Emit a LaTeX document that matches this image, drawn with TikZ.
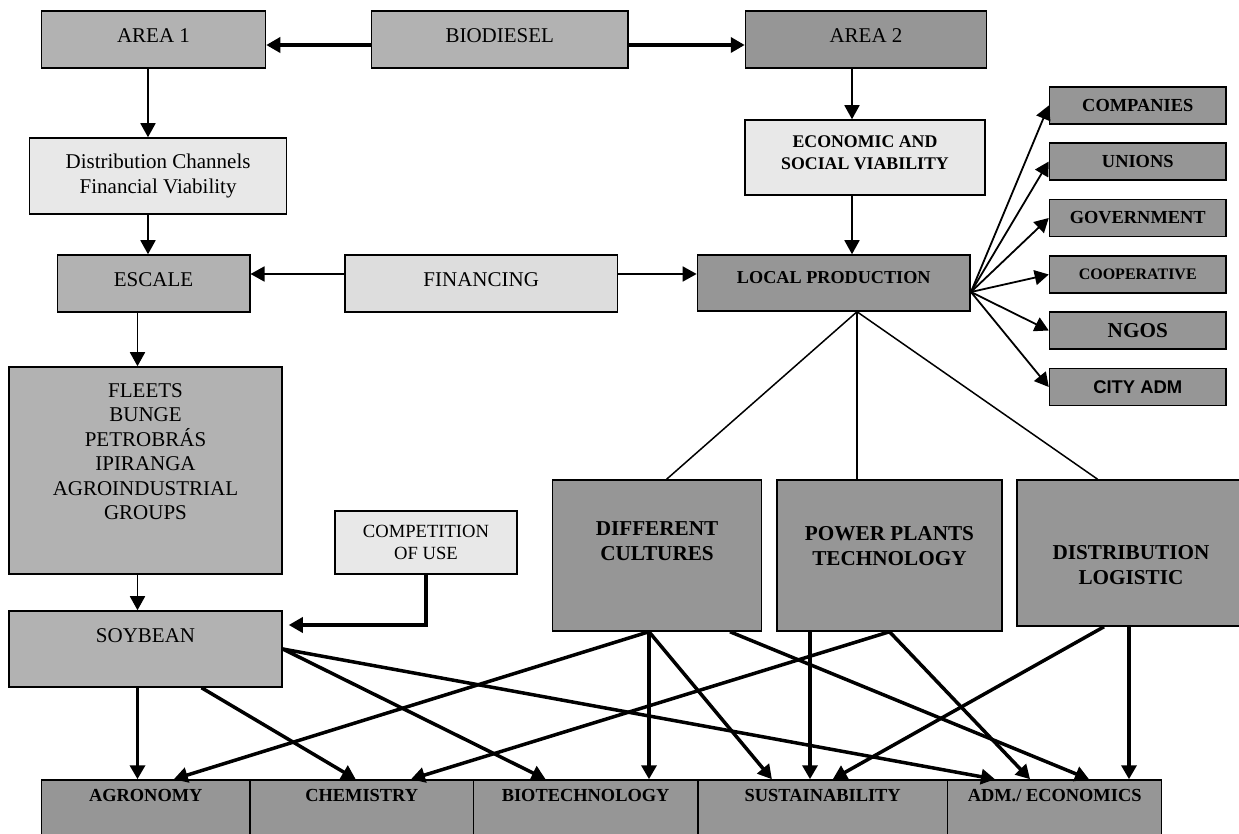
\documentclass[tikz,border=0pt]{standalone}
\usepackage{fontspec}
\setmainfont{Liberation Serif}
\setsansfont{Liberation Sans}
\usepackage{xcolor}
\usepackage{tikz}
\usetikzlibrary{arrows.meta, positioning, calc}

\definecolor{boxmid}{HTML}{B2B2B2}
\definecolor{boxdark}{HTML}{969696}
\definecolor{boxpale}{HTML}{E8E8E8}
\definecolor{boxlight}{HTML}{DDDDDD}

\begin{document}
\begin{tikzpicture}[
	  x=0.5pt, y=-0.5pt,
	  font=\fontsize{10.5}{12.2}\selectfont,
	  box/.style={
	    draw,
	    line width=0.75pt,
	    inner sep=0pt,
	    align=center
	  },
	  wh/.style 2 args={minimum width=#1, minimum height=#2},
	  boldsmall/.style={font=\fontsize{9.2}{11}\selectfont\bfseries},
	  boldbig/.style={font=\fontsize{10.6}{12.5}\selectfont\bfseries},
	  arrowtip/.style={-{Triangle[length=7pt, width=7.5pt]}},
	  arrow/.style={arrowtip, line width=0.9pt},
	  heavy/.style={arrowtip, line width=1.75pt},
	  link/.style={line width=0.75pt}
	]
	\useasboundingbox (0,0) rectangle (1239,834);
	
	\node[box, fill=boxmid, wh={112pt}{28.5pt}, text depth=4pt] (area1) at (153.5,39.5) {AREA 1};
	\node[box, fill=boxmid, wh={128.25pt}{28.5pt}, text depth=4pt] (biodiesel) at (499.75,39.5) {BIODIESEL};
	\node[box, fill=boxdark, wh={120.5pt}{28.5pt}, text depth=4pt] (area2) at (866,39.5) {AREA 2};
	
	\node[box, fill=boxpale, wh={128.5pt}{38pt}] (distch) at (158.1,176) {Distribution Channels\\Financial Viability};
	\node[box, fill=boxpale, wh={120.2pt}{37.5pt}, text depth=5pt, font=\fontsize{8.9}{11}\selectfont\bfseries] (econ) at (865,157.5) {ECONOMIC AND\\SOCIAL VIABILITY};
	
	\node[box, fill=boxmid, wh={96.25pt}{28.5pt}, text depth=4pt] (escale) at (153.5,283.5) {ESCALE};
	\node[box, fill=boxlight, wh={136.2pt}{28.5pt}, text depth=4pt] (financing) at (481.2,283.5) {FINANCING};
	\node[box, fill=boxdark, wh={136.4pt}{28pt}, text depth=5.5pt, font=\fontsize{9.1}{11}\selectfont\bfseries] (localprod) at (833.8,283) {LOCAL PRODUCTION};
	
	\node[box, fill=boxdark, wh={88.25pt}{18.5pt}, boldsmall] (companies) at (1137.75,105.5) {COMPANIES};
	\node[box, fill=boxdark, wh={88.25pt}{18.5pt}, boldsmall] (unions) at (1137.75,161.5) {UNIONS};
	\node[box, fill=boxdark, wh={88.25pt}{18.5pt}, boldsmall] (government) at (1137.75,218) {GOVERNMENT};
	\node[box, fill=boxdark, wh={88.25pt}{18.5pt}, font=\fontsize{8}{10}\selectfont\bfseries] (cooperative) at (1137.75,274.5) {COOPERATIVE};
	\node[box, fill=boxdark, wh={88.25pt}{18.5pt}, font=\fontsize{10.6}{12}\selectfont\bfseries] (ngos) at (1137.75,330.5) {NGOS};
	\node[box, fill=boxdark, wh={88.25pt}{18.5pt}, font=\fontsize{9.2}{11}\selectfont\sffamily\bfseries] (cityadm) at (1137.75,387) {CITY ADM};
	
	\node[box, fill=boxmid, wh={136.5pt}{103.5pt}, text depth=19pt] (fleets) at (145.5,470.5) {FLEETS\\BUNGE\\PETROBRÁS\\IPIRANGA\\AGROINDUSTRIAL\\GROUPS};
	\node[box, fill=boxpale, wh={91pt}{31.5pt}, font=\fontsize{9.3}{10.8}\selectfont] (competition) at (426,542.5) {COMPETITION\\OF USE};
	\node[box, fill=boxmid, wh={136.5pt}{38pt}, text depth=13.5pt] (soybean) at (145.5,649) {SOYBEAN};
	
	\node[box, fill=boxdark, wh={104.35pt}{75.5pt}, text depth=14.5pt, boldbig] (diffcult) at (657,555.5) {DIFFERENT\\CULTURES};
	\node[box, fill=boxdark, wh={112.5pt}{75.5pt}, text depth=10pt, boldbig] (powerplants) at (889.5,555.5) {POWER PLANTS\\TECHNOLOGY};
	\node[box, fill=boxdark, wh={114pt}{73pt}, boldbig] (distlog) at (1131,553) {\rule{0pt}{19.2pt}DISTRIBUTION\\LOGISTIC};
	
	\node[box, fill=boxdark, wh={104.25pt}{30pt}, text depth=15pt, boldsmall] (agronomy) at (145.75,810) {AGRONOMY};
	\node[box, fill=boxdark, wh={111.75pt}{30pt}, text depth=15pt, boldsmall] (chemistry) at (361.75,810) {CHEMISTRY};
	\node[box, fill=boxdark, wh={112.15pt}{30pt}, text depth=15pt, boldsmall] (biotech) at (585.65,810) {BIOTECHNOLOGY};
	\node[box, fill=boxdark, wh={124.95pt}{30pt}, text depth=15pt, boldsmall] (sustain) at (822.75,810) {SUSTAINABILITY};
	\node[box, fill=boxdark, wh={106.95pt}{30pt}, text depth=15pt, boldsmall] (admecon) at (1054.65,810) {ADM./ ECONOMICS};
	
	\draw[arrowtip, line width=2.3pt] ([yshift=-2.75pt]biodiesel.west) -- ([yshift=-2.75pt]biodiesel.west -| area1.east);
	\draw[arrowtip, line width=2.3pt] ([yshift=-2.75pt]biodiesel.east) -- ([yshift=-2.75pt]biodiesel.east -| area2.west);
	
	\draw[arrow] ([xshift=-2.75pt]area1.south) -- ([xshift=-2.75pt]area1.south |- distch.north);
	\draw[arrow] ([xshift=-2.75pt]escale.north |- distch.south) -- ([xshift=-2.75pt]escale.north);
	\draw[arrow] ([xshift=-7pt]area2.south) -- ([xshift=-7pt]area2.south |- econ.north);
	\draw[arrow] ([xshift=-6.5pt]econ.south) -- ([xshift=-6.5pt]econ.south |- localprod.north);
	\draw[arrow] ([yshift=4.75pt]financing.west) -- ([yshift=4.75pt]financing.west -| escale.east);
	\draw[arrow] ([yshift=4.75pt]financing.east) -- ([yshift=4.75pt]financing.east -| localprod.west);
	\draw[arrow] ([xshift=-4pt]fleets.north |- escale.south) -- ([xshift=-4pt]fleets.north);
	\draw[arrow] ([xshift=-4pt]fleets.south) -- ([xshift=-4pt]soybean.north);
	\draw[arrowtip, line width=2pt] (competition.south) |- ([xshift=3pt, yshift=12pt]soybean.east);
	
	\coordinate (fan) at ([yshift=-4.5pt]localprod.east);
	\draw[arrow] (fan) -- (companies.west);
	\draw[arrow] (fan) -- (unions.west);
	\draw[arrow] (fan) -- (government.west);
	\draw[arrow] (fan) -- (cooperative.west);
	\draw[arrow] (fan) -- (ngos.west);
	\draw[arrow] (fan) -- (cityadm.west);
	
	\coordinate (hub) at ([xshift=11.6pt]localprod.south);
	\draw[link] (hub) -- ([xshift=4.8pt]diffcult.north);
	\draw[link] (hub) -- (hub |- powerplants.north);
	\draw[link] (hub) -- ([xshift=-16.7pt]distlog.north);
	
	\draw[heavy] ([xshift=-4pt]soybean.south) -- ([xshift=-4pt]soybean.south |- agronomy.north);
	\draw[heavy] ([xshift=28pt]soybean.south) -- ([xshift=-3pt]chemistry.north);
	\draw[heavy] (soybean.east) -- ([xshift=-20pt]biotech.north);
	\draw[heavy] (soybean.east) -- ([xshift=-29.8pt]admecon.north);
	
	\draw[heavy] ([xshift=-4pt]diffcult.south) -- ([xshift=14pt]agronomy.north);
	\draw[heavy] ([xshift=-4pt]diffcult.south) -- ([xshift=-4pt]diffcult.south |- biotech.north);
	\draw[heavy] ([xshift=-4pt]diffcult.south) -- ([xshift=-25.4pt]sustain.north);
	\draw[heavy] ([xshift=36.5pt]diffcult.south) -- ([xshift=17.2pt]admecon.north);
	
	\draw[heavy] ([xshift=-39.75pt]powerplants.south) -- ([xshift=-39.75pt]powerplants.south |- sustain.north);
	\draw[heavy] (powerplants.south) -- ([xshift=24.6pt]chemistry.north);
	\draw[heavy] (powerplants.south) -- ([xshift=-12.3pt]admecon.north);
	
	\draw[heavy] ([xshift=-13.5pt]distlog.south) -- ([xshift=5pt]sustain.north);
	\draw[heavy] ([xshift=-1pt]distlog.south) -- ([xshift=-1pt]distlog.south |- admecon.north);
	
	\end{tikzpicture}
\end{document}
